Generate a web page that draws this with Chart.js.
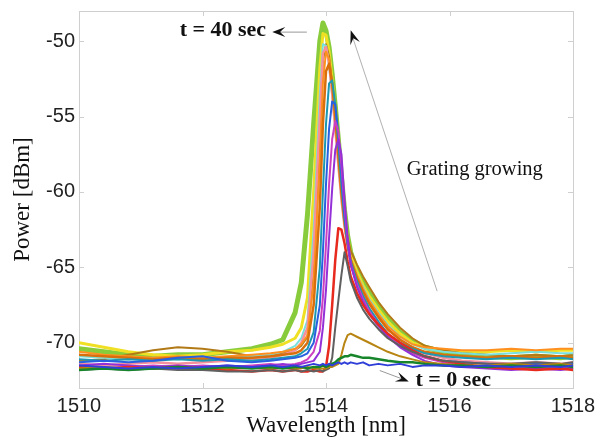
<!DOCTYPE html>
<html>
<head>
<meta charset="utf-8">
<script src="https://cdn.jsdelivr.net/npm/chart.js@4.4.0/dist/chart.umd.min.js"></script>
<style>
  html, body { margin: 0; padding: 0; background: #fff; }
  #wrap { width: 601px; height: 440px; }
</style>
</head>
<body>
<div id="wrap"><canvas id="spectra" width="601" height="440"></canvas></div>
<script>
// wavelength grid shared by every trace (nm)
const wavelengths = [1510.0, 1510.4, 1510.8, 1511.2, 1511.6, 1512.0, 1512.4, 1512.8, 1513.1, 1513.3,
                     1513.5, 1513.6, 1513.7, 1513.8, 1513.9, 1513.95, 1514.0, 1514.05, 1514.1, 1514.15,
                     1514.2, 1514.25, 1514.3, 1514.35, 1514.4, 1514.5, 1514.6, 1514.7, 1514.85, 1515.0,
                     1515.2, 1515.4, 1515.6, 1515.9, 1516.2, 1516.6, 1517.0, 1517.4, 1517.8, 1518.0];
const xTicks = [1510, 1512, 1514, 1516, 1518];
const yTicks = [-70, -65, -60, -55, -50];

// power traces (dBm), from t = 0 sec up to t = 40 sec
const traceT0 = [-71.5,-71.6,-71.7,-71.6,-71.7,-71.6,-71.5,-71.6,-71.5,-71.6,-71.5,-71.6,-71.5,-71.4,-71.5,-71.4,-71.5,-71.4,-71.5,-71.4,
                 -71.3,-71.4,-71.3,-71.4,-71.3,-71.4,-71.3,-71.5,-71.4,-71.5,-71.4,-71.6,-71.5,-71.5,-71.6,-71.5,-71.6,-71.5,-71.6,-71.5];
const traceDarkGreen = [-71.8,-71.7,-71.8,-71.7,-71.6,-71.7,-71.6,-71.7,-71.6,-71.7,-71.6,-71.6,-71.7,-71.6,-71.6,-71.5,-71.6,-71.5,-71.4,-71.3,
                        -71.1,-71.0,-70.9,-70.9,-70.8,-70.9,-71.0,-71.0,-71.1,-71.2,-71.3,-71.3,-71.4,-71.5,-71.5,-71.6,-71.5,-71.6,-71.5,-71.6];
const traceBrown = [-71.7,-71.6,-71.7,-71.6,-71.7,-71.6,-71.7,-71.6,-71.7,-71.6,-71.7,-71.7,-71.6,-71.7,-71.7,-71.7,-71.7,-71.6,-71.6,-71.5,
                    -71.4,-70.8,-70.0,-69.5,-69.4,-69.6,-69.8,-70.0,-70.3,-70.6,-70.9,-71.1,-71.3,-71.4,-71.5,-71.5,-71.4,-71.5,-71.4,-71.5];
const traceGray = [-71.8,-71.7,-71.8,-71.7,-71.8,-71.8,-71.9,-71.9,-71.8,-71.9,-71.8,-71.9,-71.8,-71.9,-71.8,-71.9,-71.8,-71.7,-71.0,-69.0,
                   -67.2,-65.5,-64.0,-64.9,-65.9,-67.0,-67.8,-68.4,-69.1,-69.7,-70.2,-70.6,-70.9,-71.2,-71.3,-71.4,-71.4,-71.3,-71.4,-71.3];
const traceRed = [-71.6,-71.7,-71.6,-71.7,-71.6,-71.7,-71.8,-71.9,-71.8,-71.9,-71.8,-71.9,-71.9,-71.8,-71.9,-71.9,-71.6,-70.2,-67.5,-64.5,
                  -62.4,-62.5,-63.4,-64.6,-65.6,-66.7,-67.5,-68.1,-68.8,-69.4,-70.0,-70.5,-70.9,-71.2,-71.4,-71.6,-71.7,-71.8,-71.7,-71.8];
const tracePurple = [-71.5,-71.4,-71.5,-71.6,-71.5,-71.6,-71.5,-71.6,-71.5,-71.4,-71.5,-71.4,-71.3,-71.2,-70.6,-69.0,-66.5,-63.0,-59.8,-57.2,
                     -56.5,-57.5,-60.5,-63.0,-64.8,-66.3,-67.3,-68.1,-68.9,-69.6,-70.3,-70.8,-71.2,-71.5,-71.6,-71.7,-71.8,-71.7,-71.8,-71.7];
const traceMagenta = [-71.6,-71.7,-71.6,-71.5,-71.6,-71.5,-71.6,-71.5,-71.4,-71.5,-71.4,-71.3,-71.1,-70.6,-69.2,-67.0,-63.5,-59.5,-56.5,-55.3,
                      -56.0,-58.2,-61.0,-63.2,-64.8,-66.1,-67.1,-67.9,-68.8,-69.5,-70.2,-70.7,-71.0,-71.3,-71.5,-71.6,-71.7,-71.6,-71.7,-71.6];
const traceBlue = [-71.3,-71.2,-71.3,-71.2,-71.0,-70.9,-71.2,-71.3,-71.2,-71.1,-71.0,-70.9,-70.7,-70.0,-67.5,-64.0,-59.5,-55.8,-54.0,-54.2,
                   -56.2,-58.8,-61.5,-63.4,-64.8,-66.1,-67.1,-67.9,-68.8,-69.5,-70.1,-70.6,-70.9,-71.2,-71.3,-71.4,-71.5,-71.4,-71.5,-71.4];
const traceTeal = [-71.1,-71.2,-71.1,-71.2,-71.1,-71.2,-71.1,-71.2,-71.1,-71.0,-70.9,-70.7,-70.4,-69.3,-65.0,-60.0,-55.5,-52.8,-52.6,-54.2,
                   -56.8,-59.5,-61.8,-63.4,-64.6,-65.9,-66.9,-67.7,-68.6,-69.4,-70.0,-70.4,-70.7,-70.9,-71.0,-71.1,-71.0,-71.1,-71.0,-71.1];
const traceDarkOrange = [-70.8,-70.9,-71.0,-71.1,-71.0,-71.1,-71.0,-71.0,-70.9,-70.8,-70.7,-70.5,-70.0,-67.5,-61.0,-55.5,-52.0,-51.5,-52.8,-55.0,
                         -57.6,-60.0,-62.0,-63.5,-64.5,-65.7,-66.6,-67.4,-68.3,-69.1,-69.8,-70.3,-70.6,-70.8,-70.9,-71.0,-70.9,-71.0,-70.9,-71.0];
const traceOrange = [-70.6,-70.8,-70.9,-71.0,-70.9,-71.0,-70.9,-70.8,-70.7,-70.6,-70.4,-70.1,-69.5,-66.0,-58.0,-52.8,-50.7,-51.2,-53.0,-55.3,
                     -57.8,-60.2,-62.0,-63.4,-64.4,-65.5,-66.4,-67.2,-68.1,-68.9,-69.6,-70.1,-70.3,-70.4,-70.5,-70.5,-70.4,-70.5,-70.4,-70.4];
const tracePink = [-71.4,-71.5,-71.4,-71.3,-71.4,-71.3,-71.2,-71.1,-71.0,-70.8,-70.5,-70.0,-69.0,-64.0,-55.0,-50.8,-50.4,-51.5,-53.5,-55.8,
                   -58.2,-60.5,-62.3,-63.6,-64.6,-65.7,-66.6,-67.4,-68.3,-69.1,-69.8,-70.3,-70.7,-71.0,-71.2,-71.3,-71.4,-71.3,-71.4,-71.3];
const traceCyan = [-70.9,-71.0,-71.1,-71.0,-71.1,-71.0,-71.0,-70.9,-70.8,-70.6,-70.2,-69.7,-68.5,-62.5,-53.5,-50.2,-50.3,-51.6,-53.6,-55.8,
                   -58.2,-60.5,-62.2,-63.5,-64.4,-65.5,-66.3,-67.1,-68.0,-68.8,-69.6,-70.1,-70.4,-70.6,-70.7,-70.8,-70.7,-70.6,-70.7,-70.7];
const traceGold = [-71.2,-71.1,-70.8,-70.5,-70.3,-70.4,-70.6,-70.9,-70.9,-70.7,-70.5,-70.2,-69.6,-65.5,-56.0,-51.3,-50.2,-51.0,-52.8,-55.0,
                   -57.4,-59.8,-61.8,-63.0,-63.9,-64.8,-65.6,-66.3,-67.3,-68.1,-69.0,-69.7,-70.2,-70.5,-70.7,-70.8,-70.9,-70.8,-70.9,-70.8];
const traceYellow = [-70.0,-70.3,-70.6,-70.8,-70.9,-70.8,-70.6,-70.5,-70.3,-70.1,-69.7,-69.0,-67.0,-60.0,-51.8,-49.5,-49.6,-50.7,-52.6,-54.8,
                     -57.0,-59.5,-61.6,-63.1,-64.1,-65.3,-66.2,-66.9,-67.8,-68.6,-69.4,-70.0,-70.3,-70.5,-70.6,-70.6,-70.5,-70.6,-70.5,-70.5];
const traceT40 = [-70.4,-70.6,-70.8,-70.9,-70.8,-70.8,-70.6,-70.4,-70.1,-69.8,-68.0,-66.0,-61.5,-55.5,-50.0,-48.8,-49.3,-50.4,-52.2,-54.3,
                  -56.5,-59.0,-61.2,-62.9,-64.0,-65.2,-66.0,-66.7,-67.6,-68.4,-69.3,-69.9,-70.3,-70.6,-70.8,-70.9,-71.0,-70.9,-71.0,-70.9];

const traces = [
    [traceT0, '#2f3fd8', 2],
    [traceDarkGreen, '#17862b', 2.5],
    [traceBrown, '#b88512', 2],
    [traceGray, '#606060', 2],
    [traceRed, '#e8291d', 2.5],
    [tracePurple, '#9430d8', 2],
    [traceMagenta, '#cc3fc0', 2],
    [traceBlue, '#2860e0', 2],
    [traceTeal, '#1d98b0', 2],
    [traceDarkOrange, '#d96f0c', 2.5],
    [traceOrange, '#ff9020', 2],
    [tracePink, '#f5909c', 2.5],
    [traceCyan, '#78e0dc', 2],
    [traceGold, '#b27a17', 2],
    [traceYellow, '#f0e024', 3],
    [traceT40, '#88cc3c', 5]
];

const serif = 'Liberation Serif';
const sans = 'Liberation Sans';

function arrowHead(ctx, fx, fy, tx, ty, len, half) {
    const ang = Math.atan2(ty - fy, tx - fx);
    ctx.save();
    ctx.translate(tx, ty);
    ctx.rotate(ang);
    ctx.beginPath();
    ctx.moveTo(0, 0);
    ctx.lineTo(-len, -half);
    ctx.lineTo(-len * 0.6, 0);
    ctx.lineTo(-len, half);
    ctx.closePath();
    ctx.fill();
    ctx.restore();
}

// MATLAB-like box with inward ticks
const boxTicks = {
    id: 'boxTicks',
    beforeDatasetsDraw(chart) {
        const {ctx, chartArea: a, scales: {x, y}} = chart;
        ctx.save();
        ctx.strokeStyle = '#cfcfcf';
        ctx.lineWidth = 1;
        ctx.strokeRect(a.left + 0.5, a.top + 0.5, a.right - a.left, a.bottom - a.top);
        ctx.beginPath();
        xTicks.forEach(v => {
            const px = Math.round(x.getPixelForValue(v)) + 0.5;
            ctx.moveTo(px, a.bottom); ctx.lineTo(px, a.bottom - 5);
            ctx.moveTo(px, a.top); ctx.lineTo(px, a.top + 5);
        });
        yTicks.forEach(v => {
            const py = Math.round(y.getPixelForValue(v)) + 0.5;
            ctx.moveTo(a.left, py); ctx.lineTo(a.left + 5, py);
            ctx.moveTo(a.right, py); ctx.lineTo(a.right - 5, py);
        });
        ctx.stroke();
        ctx.restore();
    }
};

const notes = {
    id: 'notes',
    afterDatasetsDraw(chart) {
        const {ctx, scales: {x, y}} = chart;
        const X = v => x.getPixelForValue(v), Y = v => y.getPixelForValue(v);
        ctx.save();
        ctx.fillStyle = '#111';
        ctx.textAlign = 'center';
        ctx.textBaseline = 'middle';

        ctx.font = 'bold 22px "' + serif + '"';
        ctx.fillText('t = 40 sec', X(1512.33), Y(-49.3));
        ctx.fillText('t = 0 sec', X(1516.06), Y(-72.5));
        ctx.font = '20.5px "' + serif + '"';
        ctx.fillText('Grating growing', X(1516.41), Y(-58.55));

        ctx.lineWidth = 1;
        // t = 40 sec arrow
        ctx.strokeStyle = '#999';
        ctx.beginPath();
        ctx.moveTo(X(1513.69), Y(-49.4)); ctx.lineTo(X(1513.2), Y(-49.4));
        ctx.stroke();
        arrowHead(ctx, X(1513.69), Y(-49.4), X(1513.13), Y(-49.4), 13, 5);
        // grating growing arrow
        ctx.strokeStyle = '#b0b0b0';
        ctx.beginPath();
        ctx.moveTo(X(1515.80), Y(-66.58)); ctx.lineTo(X(1514.42), Y(-49.6));
        ctx.stroke();
        arrowHead(ctx, X(1515.80), Y(-66.58), X(1514.40), Y(-49.28), 14, 5);
        // t = 0 sec arrow
        ctx.strokeStyle = '#999';
        ctx.beginPath();
        ctx.moveTo(X(1514.87), Y(-71.84)); ctx.lineTo(X(1515.3), Y(-72.5));
        ctx.stroke();
        arrowHead(ctx, X(1514.87), Y(-71.84), X(1515.34), Y(-72.57), 13, 5);
        ctx.restore();
    }
};

new Chart(document.getElementById('spectra'), {
    type: 'line',
    data: {
        datasets: traces.map(([vals, color, w]) => ({
            data: vals.map((v, i) => ({x: wavelengths[i], y: v})),
            borderColor: color,
            borderWidth: w,
            borderJoinStyle: 'round',
            borderCapStyle: 'round',
            pointRadius: 0,
            tension: 0,
            fill: false
        }))
    },
    options: {
        responsive: false,
        animation: false,
        layout: {padding: {top: 11, right: 28, left: 0, bottom: 0}},
        plugins: {legend: {display: false}, tooltip: {enabled: false}},
        scales: {
            x: {
                type: 'linear', min: 1510, max: 1518,
                afterBuildTicks: s => { s.ticks = xTicks.map(v => ({value: v})); },
                afterFit: s => { s.height = 52; s.paddingLeft = 0; s.paddingRight = 0; },
                grid: {drawOnChartArea: false, drawTicks: false},
                border: {color: '#cfcfcf'},
                ticks: {font: {family: sans, size: 20}, color: '#222', padding: 6, maxRotation: 0,
                        callback: v => String(v)},
                title: {display: true, text: 'Wavelength [nm]', font: {family: serif, size: 23}, color: '#111', padding: {top: 0, bottom: 0}}
            },
            y: {
                type: 'linear', min: -73, max: -48,
                afterBuildTicks: s => { s.ticks = yTicks.map(v => ({value: v})); },
                afterFit: s => { s.width = 79; s.paddingTop = 0; s.paddingBottom = 0; },
                grid: {drawOnChartArea: false, drawTicks: false},
                border: {color: '#cfcfcf'},
                ticks: {font: {family: sans, size: 20}, color: '#222', padding: 4},
                title: {display: true, text: 'Power [dBm]', font: {family: serif, size: 23}, color: '#111', padding: {top: 9, bottom: 0}}
            }
        }
    },
    plugins: [boxTicks, notes]
});
</script>
</body>
</html>
